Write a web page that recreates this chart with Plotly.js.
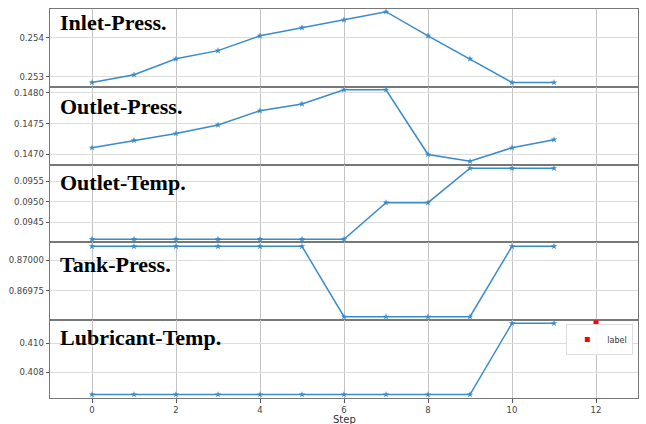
<!DOCTYPE html>
<html><head><meta charset="utf-8">
<script src="https://cdn.plot.ly/plotly-3.0.1.min.js"></script>
<style>html,body{margin:0;padding:0;background:#fff;}#chart{width:646px;height:424px;}</style>
</head><body><div id="chart"></div>
<script>
const steps = [0,1,2,3,4,5,6,7,8,9,10,11];
const inletPress = [0.25285,0.25305,0.25346,0.25367,0.25405,0.25426,0.25446,0.25467,0.25405,0.25346,0.25285,0.25285];
const outletPress = [0.14711,0.14723,0.14734,0.14748,0.14771,0.14782,0.14805,0.14805,0.14700,0.14689,0.14711,0.14724];
const outletTemp = [0.09409,0.09409,0.09409,0.09409,0.09409,0.09409,0.09409,0.09498,0.09498,0.09582,0.09582,0.09582];
const tankPress = [0.870117,0.870117,0.870117,0.870117,0.870117,0.870117,0.869533,0.869533,0.869533,0.869533,0.870117,0.870117];
const lubricantTemp = [0.40648,0.40648,0.40648,0.40648,0.40648,0.40648,0.40648,0.40648,0.40648,0.40648,0.41138,0.41138];
const panelTitles = ["Inlet-Press.","Outlet-Press.","Outlet-Temp.","Tank-Press.","Lubricant-Temp."];
const xTitle = "Step";
const labelX = [12];
const labelY = [0.41145];

const series = [inletPress, outletPress, outletTemp, tankPress, lubricantTemp];
const lineColor = '#3a8bc9';
const traces = series.map((ys, i) => ({
  x: steps, y: ys, type: 'scatter', mode: 'lines+markers',
  xaxis: i === 0 ? 'x' : 'x' + (i + 1), yaxis: i === 0 ? 'y' : 'y' + (i + 1),
  line: {color: lineColor, width: 1.5},
  marker: {color: lineColor, size: 5, symbol: 'star'},
  showlegend: false, cliponaxis: true
}));
traces.push({
  x: labelX, y: labelY, type: 'scatter', mode: 'markers', name: 'label',
  xaxis: 'x5', yaxis: 'y5',
  marker: {color: '#ff0000', size: 5, symbol: 'square'},
  showlegend: true, cliponaxis: true
});

const yFormats = [
  {dtick: 0.001, tick0: 0, tickformat: '.3f'},
  {dtick: 0.0005, tick0: 0, tickformat: '.4f'},
  {dtick: 0.0005, tick0: 0, tickformat: '.4f'},
  {dtick: 0.00025, tick0: 0, tickformat: '.5f'},
  {dtick: 0.002, tick0: 0, tickformat: '.3f'}
];
const yRanges = [
  [0.25274, 0.25474],
  [0.146836, 0.148098],
  [0.094012, 0.095908],
  [0.869504, 0.87015],
  [0.40624, 0.41159]
];

const layout = {
  width: 646, height: 424,
  margin: {l: 50, r: 8, t: 9, b: 26},
  paper_bgcolor: '#fff', plot_bgcolor: '#fff',
  font: {family: 'DejaVu Sans, sans-serif', size: 8.5, color: '#444'},
  showlegend: true,
  legend: {x: 0.992, y: 0.19, xanchor: 'right', yanchor: 'top',
    bgcolor: 'rgba(255,255,255,0.9)', bordercolor: '#dddddd', borderwidth: 1,
    font: {size: 8, color: '#333'}, itemwidth: 30, tracegroupgap: 0},
  annotations: [{
    xref: 'paper', yref: 'paper', x: 0.5, y: -0.056, xanchor: 'center', yanchor: 'middle',
    showarrow: false, text: xTitle, font: {size: 10, color: '#333'}
  }]
};
const titleY = [0.966, 0.750, 0.554, 0.343, 0.1555];
for (let i = 0; i < 5; i++) {
  const n = i === 0 ? '' : String(i + 1);
  const top = 1 - i * 0.2, bot = 1 - (i + 1) * 0.2;
  layout['xaxis' + n] = {
    domain: [0, 1], anchor: 'y' + n, range: [-1, 13],
    dtick: 2, tick0: 0, matches: i === 4 ? undefined : 'x5',
    showticklabels: i === 4, ticks: i === 4 ? 'outside' : '', ticklen: 3.5, tickcolor: '#555',
    showgrid: true, gridcolor: '#c4c4c4', gridwidth: 1,
    showline: true, mirror: true, linecolor: '#777', linewidth: 1,
    zeroline: false,
    tickfont: {size: 8.5, color: '#444'},
    title: {text: ''}
  };
  layout['yaxis' + n] = Object.assign({
    domain: [bot, top], anchor: 'x' + n, range: yRanges[i],
    ticks: 'outside', ticklen: 3.5, tickcolor: '#555',
    showgrid: true, gridcolor: '#dcdcdc', gridwidth: 1,
    showline: true, mirror: true, linecolor: '#777', linewidth: 1,
    zeroline: false, tickfont: {size: 8.5, color: '#444'}
  }, yFormats[i]);
  layout.annotations.push({
    xref: 'paper', yref: 'paper', x: 0.0136, y: titleY[i],
    xanchor: 'left', yanchor: 'middle', showarrow: false,
    text: '<b>' + panelTitles[i] + '</b>',
    font: {family: 'Liberation Serif, Times New Roman, serif', size: 22, color: '#000'}
  });
}
Plotly.newPlot('chart', traces, layout, {displayModeBar: false, staticPlot: true});
</script></body></html>
